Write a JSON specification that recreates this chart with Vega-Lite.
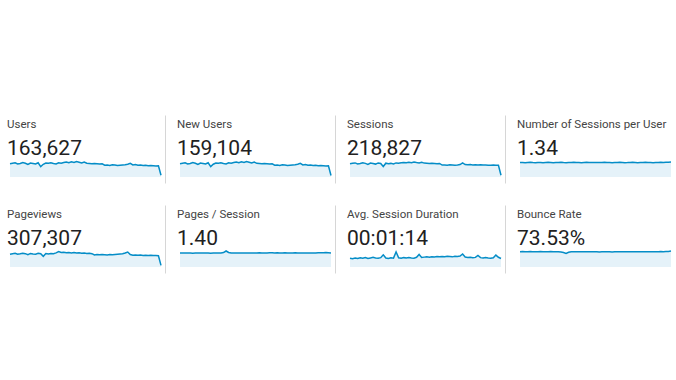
{
  "$schema": "https://vega.github.io/schema/vega-lite/v6.json",
  "background": "white",
  "padding": {"left": 7, "top": 115, "right": 8, "bottom": 107},
  "data": {"values": [
    {"d":0,"users":2750,"newusers":2670,"sessions":3700,"spu":1.33,"pageviews":5050,"pps":1.39,"asd":68,"bounce":73.5},
    {"d":1,"users":2850,"newusers":2760,"sessions":3850,"spu":1.35,"pageviews":5250,"pps":1.40,"asd":64,"bounce":74.0},
    {"d":2,"users":2950,"newusers":2860,"sessions":3950,"spu":1.32,"pageviews":5400,"pps":1.39,"asd":70,"bounce":73.2},
    {"d":3,"users":2700,"newusers":2620,"sessions":3650,"spu":1.34,"pageviews":5000,"pps":1.41,"asd":66,"bounce":73.8},
    {"d":4,"users":2800,"newusers":2720,"sessions":3780,"spu":1.36,"pageviews":5200,"pps":1.40,"asd":72,"bounce":74.3},
    {"d":5,"users":3000,"newusers":2910,"sessions":4000,"spu":1.33,"pageviews":5450,"pps":1.38,"asd":69,"bounce":73.6},
    {"d":6,"users":2850,"newusers":2760,"sessions":3820,"spu":1.31,"pageviews":5250,"pps":1.39,"asd":74,"bounce":73.1},
    {"d":7,"users":2600,"newusers":2520,"sessions":3550,"spu":1.34,"pageviews":4850,"pps":1.40,"asd":67,"bounce":73.9},
    {"d":8,"users":2900,"newusers":2810,"sessions":3900,"spu":1.35,"pageviews":5350,"pps":1.41,"asd":71,"bounce":74.4},
    {"d":9,"users":2800,"newusers":2720,"sessions":3780,"spu":1.32,"pageviews":5150,"pps":1.39,"asd":75,"bounce":73.7},
    {"d":10,"users":2700,"newusers":2620,"sessions":3620,"spu":1.34,"pageviews":5000,"pps":1.40,"asd":70,"bounce":73.2},
    {"d":11,"users":2950,"newusers":2860,"sessions":3950,"spu":1.36,"pageviews":5400,"pps":1.39,"asd":68,"bounce":73.8},
    {"d":12,"users":2150,"newusers":2090,"sessions":3800,"spu":1.34,"pageviews":5200,"pps":1.38,"asd":73,"bounce":74.1},
    {"d":13,"users":2650,"newusers":2570,"sessions":2950,"spu":1.31,"pageviews":4200,"pps":1.40,"asd":95,"bounce":73.5},
    {"d":14,"users":2900,"newusers":2810,"sessions":3880,"spu":1.33,"pageviews":5300,"pps":1.39,"asd":70,"bounce":73.0},
    {"d":15,"users":2850,"newusers":2760,"sessions":3720,"spu":1.35,"pageviews":5100,"pps":1.40,"asd":66,"bounce":73.6},
    {"d":16,"users":2950,"newusers":2860,"sessions":3820,"spu":1.36,"pageviews":5350,"pps":1.41,"asd":72,"bounce":72.5},
    {"d":17,"users":2800,"newusers":2720,"sessions":3650,"spu":1.33,"pageviews":5200,"pps":1.44,"asd":69,"bounce":70.0},
    {"d":18,"users":2700,"newusers":2620,"sessions":3950,"spu":1.32,"pageviews":5550,"pps":1.60,"asd":118,"bounce":65.5},
    {"d":19,"users":2950,"newusers":2860,"sessions":3850,"spu":1.34,"pageviews":6100,"pps":1.45,"asd":72,"bounce":71.0},
    {"d":20,"users":2850,"newusers":2760,"sessions":3980,"spu":1.35,"pageviews":5700,"pps":1.40,"asd":68,"bounce":73.2},
    {"d":21,"users":3000,"newusers":2910,"sessions":4100,"spu":1.36,"pageviews":5850,"pps":1.39,"asd":73,"bounce":73.8},
    {"d":22,"users":3100,"newusers":3010,"sessions":3980,"spu":1.33,"pageviews":5600,"pps":1.40,"asd":70,"bounce":73.4},
    {"d":23,"users":2950,"newusers":2860,"sessions":4150,"spu":1.34,"pageviews":5750,"pps":1.41,"asd":74,"bounce":73.0},
    {"d":24,"users":3150,"newusers":3060,"sessions":4000,"spu":1.32,"pageviews":5550,"pps":1.39,"asd":71,"bounce":73.6},
    {"d":25,"users":3000,"newusers":2910,"sessions":4200,"spu":1.34,"pageviews":5700,"pps":1.40,"asd":69,"bounce":73.2},
    {"d":26,"users":3200,"newusers":3100,"sessions":4050,"spu":1.36,"pageviews":5500,"pps":1.41,"asd":76,"bounce":72.8},
    {"d":27,"users":3050,"newusers":2960,"sessions":3950,"spu":1.35,"pageviews":5600,"pps":1.40,"asd":98,"bounce":73.3},
    {"d":28,"users":2900,"newusers":2810,"sessions":4150,"spu":1.33,"pageviews":5400,"pps":1.39,"asd":74,"bounce":72.9},
    {"d":29,"users":3100,"newusers":3010,"sessions":3900,"spu":1.34,"pageviews":5550,"pps":1.40,"asd":77,"bounce":73.5},
    {"d":30,"users":2850,"newusers":2760,"sessions":3850,"spu":1.35,"pageviews":5350,"pps":1.41,"asd":79,"bounce":73.1},
    {"d":31,"users":2800,"newusers":2720,"sessions":3800,"spu":1.33,"pageviews":5450,"pps":1.42,"asd":76,"bounce":72.7},
    {"d":32,"users":2750,"newusers":2670,"sessions":3850,"spu":1.34,"pageviews":5250,"pps":1.41,"asd":80,"bounce":73.2},
    {"d":33,"users":2800,"newusers":2720,"sessions":3780,"spu":1.36,"pageviews":4750,"pps":1.40,"asd":78,"bounce":72.9},
    {"d":34,"users":2750,"newusers":2670,"sessions":3700,"spu":1.34,"pageviews":4900,"pps":1.41,"asd":81,"bounce":73.4},
    {"d":35,"users":2700,"newusers":2620,"sessions":3800,"spu":1.33,"pageviews":4800,"pps":1.42,"asd":79,"bounce":73.0},
    {"d":36,"users":2750,"newusers":2670,"sessions":3350,"spu":1.32,"pageviews":4950,"pps":1.43,"asd":82,"bounce":72.6},
    {"d":37,"users":2450,"newusers":2380,"sessions":3400,"spu":1.34,"pageviews":4850,"pps":1.41,"asd":80,"bounce":73.1},
    {"d":38,"users":2500,"newusers":2430,"sessions":3330,"spu":1.35,"pageviews":4750,"pps":1.42,"asd":83,"bounce":72.8},
    {"d":39,"users":2400,"newusers":2330,"sessions":3450,"spu":1.36,"pageviews":4900,"pps":1.41,"asd":81,"bounce":73.3},
    {"d":40,"users":2550,"newusers":2470,"sessions":3380,"spu":1.34,"pageviews":4800,"pps":1.40,"asd":79,"bounce":72.9},
    {"d":41,"users":2500,"newusers":2430,"sessions":3320,"spu":1.32,"pageviews":4900,"pps":1.42,"asd":84,"bounce":73.4},
    {"d":42,"users":2400,"newusers":2330,"sessions":3380,"spu":1.33,"pageviews":5000,"pps":1.41,"asd":82,"bounce":73.0},
    {"d":43,"users":2450,"newusers":2380,"sessions":3480,"spu":1.35,"pageviews":5100,"pps":1.40,"asd":85,"bounce":73.5},
    {"d":44,"users":2500,"newusers":2430,"sessions":3950,"spu":1.36,"pageviews":5200,"pps":1.41,"asd":101,"bounce":73.1},
    {"d":45,"users":2550,"newusers":2470,"sessions":3500,"spu":1.34,"pageviews":5500,"pps":1.42,"asd":78,"bounce":72.8},
    {"d":46,"users":2650,"newusers":2570,"sessions":3420,"spu":1.32,"pageviews":5900,"pps":1.40,"asd":74,"bounce":73.3},
    {"d":47,"users":2850,"newusers":2760,"sessions":3520,"spu":1.34,"pageviews":4900,"pps":1.41,"asd":76,"bounce":73.6},
    {"d":48,"users":2500,"newusers":2430,"sessions":3400,"spu":1.35,"pageviews":4650,"pps":1.40,"asd":72,"bounce":73.2},
    {"d":49,"users":2600,"newusers":2520,"sessions":3460,"spu":1.36,"pageviews":4750,"pps":1.39,"asd":75,"bounce":73.7},
    {"d":50,"users":2450,"newusers":2380,"sessions":3380,"spu":1.34,"pageviews":4600,"pps":1.40,"asd":90,"bounce":73.4},
    {"d":51,"users":2500,"newusers":2430,"sessions":3440,"spu":1.33,"pageviews":4700,"pps":1.41,"asd":73,"bounce":73.9},
    {"d":52,"users":2400,"newusers":2330,"sessions":3350,"spu":1.32,"pageviews":4580,"pps":1.40,"asd":70,"bounce":73.5},
    {"d":53,"users":2450,"newusers":2380,"sessions":3400,"spu":1.34,"pageviews":4650,"pps":1.41,"asd":74,"bounce":73.2},
    {"d":54,"users":2350,"newusers":2280,"sessions":3320,"spu":1.35,"pageviews":4550,"pps":1.42,"asd":71,"bounce":73.8},
    {"d":55,"users":2400,"newusers":2330,"sessions":3300,"spu":1.36,"pageviews":4600,"pps":1.43,"asd":69,"bounce":74.1},
    {"d":56,"users":2350,"newusers":2280,"sessions":3340,"spu":1.35,"pageviews":4500,"pps":1.42,"asd":72,"bounce":73.6},
    {"d":57,"users":2300,"newusers":2230,"sessions":3280,"spu":1.36,"pageviews":4520,"pps":1.44,"asd":93,"bounce":74.0},
    {"d":58,"users":2350,"newusers":2280,"sessions":3300,"spu":1.37,"pageviews":4450,"pps":1.43,"asd":76,"bounce":74.5},
    {"d":59,"users":350,"newusers":300,"sessions":480,"spu":1.38,"pageviews":650,"pps":1.40,"asd":66,"bounce":76.5}
  ]},
  "vconcat": [
    {
      "bounds": "flush",
      "spacing": 19,
      "hconcat": [
        {
          "title": {"text": "Users", "subtitle": "163,627"},
          "width": 151, "height": 68,
          "encoding": {
            "x": {"field": "d", "type": "quantitative", "scale": {"domain": [0, 59], "nice": false, "zero": false}, "axis": null},
            "y": {"field": "users", "type": "quantitative", "scale": {"domain": [-1250, 12900], "nice": false, "zero": false},
                  "axis": {"orient": "right", "offset": 4, "domain": true, "domainColor": "#d6d6d6", "domainWidth": 1, "ticks": false, "labels": false, "grid": false, "title": null}}
          },
          "layer": [
            {"mark": {"type": "area", "color": "#e5f2f9"}, "encoding": {"y2": {"datum": 0}}},
            {"mark": {"type": "line", "color": "#058dc7", "strokeWidth": 1.5}}
          ]
        },
        {
          "title": {"text": "New Users", "subtitle": "159,104"},
          "width": 151, "height": 68,
          "encoding": {
            "x": {"field": "d", "type": "quantitative", "scale": {"domain": [0, 59], "nice": false, "zero": false}, "axis": null},
            "y": {"field": "newusers", "type": "quantitative", "scale": {"domain": [-1210, 12500], "nice": false, "zero": false},
                  "axis": {"orient": "right", "offset": 4, "domain": true, "domainColor": "#d6d6d6", "domainWidth": 1, "ticks": false, "labels": false, "grid": false, "title": null}}
          },
          "layer": [
            {"mark": {"type": "area", "color": "#e5f2f9"}, "encoding": {"y2": {"datum": 0}}},
            {"mark": {"type": "line", "color": "#058dc7", "strokeWidth": 1.5}}
          ]
        },
        {
          "title": {"text": "Sessions", "subtitle": "218,827"},
          "width": 151, "height": 68,
          "encoding": {
            "x": {"field": "d", "type": "quantitative", "scale": {"domain": [0, 59], "nice": false, "zero": false}, "axis": null},
            "y": {"field": "sessions", "type": "quantitative", "scale": {"domain": [-1685, 17400], "nice": false, "zero": false},
                  "axis": {"orient": "right", "offset": 4, "domain": true, "domainColor": "#d6d6d6", "domainWidth": 1, "ticks": false, "labels": false, "grid": false, "title": null}}
          },
          "layer": [
            {"mark": {"type": "area", "color": "#e5f2f9"}, "encoding": {"y2": {"datum": 0}}},
            {"mark": {"type": "line", "color": "#058dc7", "strokeWidth": 1.5}}
          ]
        },
        {
          "title": {"text": "Number of Sessions per User", "subtitle": "1.34"},
          "width": 151, "height": 68,
          "encoding": {
            "x": {"field": "d", "type": "quantitative", "scale": {"domain": [0, 59], "nice": false, "zero": false}, "axis": null},
            "y": {"field": "spu", "type": "quantitative", "scale": {"domain": [-0.555, 5.73], "nice": false, "zero": false}, "axis": null}
          },
          "layer": [
            {"mark": {"type": "area", "color": "#e5f2f9"}, "encoding": {"y2": {"datum": 0}}},
            {"mark": {"type": "line", "color": "#058dc7", "strokeWidth": 1.5}}
          ]
        }
      ]
    },
    {
      "bounds": "flush",
      "spacing": 19,
      "hconcat": [
        {
          "title": {"text": "Pageviews", "subtitle": "307,307"},
          "width": 151, "height": 68,
          "encoding": {
            "x": {"field": "d", "type": "quantitative", "scale": {"domain": [0, 59], "nice": false, "zero": false}, "axis": null},
            "y": {"field": "pageviews", "type": "quantitative", "scale": {"domain": [-2360, 24420], "nice": false, "zero": false},
                  "axis": {"orient": "right", "offset": 4, "domain": true, "domainColor": "#d6d6d6", "domainWidth": 1, "ticks": false, "labels": false, "grid": false, "title": null}}
          },
          "layer": [
            {"mark": {"type": "area", "color": "#e5f2f9"}, "encoding": {"y2": {"datum": 0}}},
            {"mark": {"type": "line", "color": "#058dc7", "strokeWidth": 1.5}}
          ]
        },
        {
          "title": {"text": "Pages / Session", "subtitle": "1.40"},
          "width": 151, "height": 68,
          "encoding": {
            "x": {"field": "d", "type": "quantitative", "scale": {"domain": [0, 59], "nice": false, "zero": false}, "axis": null},
            "y": {"field": "pps", "type": "quantitative", "scale": {"domain": [-0.6, 6.2], "nice": false, "zero": false},
                  "axis": {"orient": "right", "offset": 4, "domain": true, "domainColor": "#d6d6d6", "domainWidth": 1, "ticks": false, "labels": false, "grid": false, "title": null}}
          },
          "layer": [
            {"mark": {"type": "area", "color": "#e5f2f9"}, "encoding": {"y2": {"datum": 0}}},
            {"mark": {"type": "line", "color": "#058dc7", "strokeWidth": 1.5}}
          ]
        },
        {
          "title": {"text": "Avg. Session Duration", "subtitle": "00:01:14"},
          "width": 151, "height": 68,
          "encoding": {
            "x": {"field": "d", "type": "quantitative", "scale": {"domain": [0, 59], "nice": false, "zero": false}, "axis": null},
            "y": {"field": "asd", "type": "quantitative", "scale": {"domain": [-46.7, 483], "nice": false, "zero": false},
                  "axis": {"orient": "right", "offset": 4, "domain": true, "domainColor": "#d6d6d6", "domainWidth": 1, "ticks": false, "labels": false, "grid": false, "title": null}}
          },
          "layer": [
            {"mark": {"type": "area", "color": "#e5f2f9"}, "encoding": {"y2": {"datum": 0}}},
            {"mark": {"type": "line", "color": "#058dc7", "strokeWidth": 1.5}}
          ]
        },
        {
          "title": {"text": "Bounce Rate", "subtitle": "73.53%"},
          "width": 151, "height": 68,
          "encoding": {
            "x": {"field": "d", "type": "quantitative", "scale": {"domain": [0, 59], "nice": false, "zero": false}, "axis": null},
            "y": {"field": "bounce", "type": "quantitative", "scale": {"domain": [-28.8, 298], "nice": false, "zero": false}, "axis": null}
          },
          "layer": [
            {"mark": {"type": "area", "color": "#e5f2f9"}, "encoding": {"y2": {"datum": 0}}},
            {"mark": {"type": "line", "color": "#058dc7", "strokeWidth": 1.5}}
          ]
        }
      ]
    }
  ],
  "bounds": "full",
  "spacing": 22,
  "config": {
    "view": {"stroke": null},
    "title": {
      "anchor": "start", "orient": "top", "offset": -44,
      "font": "Roboto", "fontSize": 11.5, "fontWeight": "normal", "color": "#444444",
      "subtitleFont": "Roboto", "subtitleFontSize": 21, "subtitleColor": "#212121", "subtitlePadding": 8
    }
  }
}
